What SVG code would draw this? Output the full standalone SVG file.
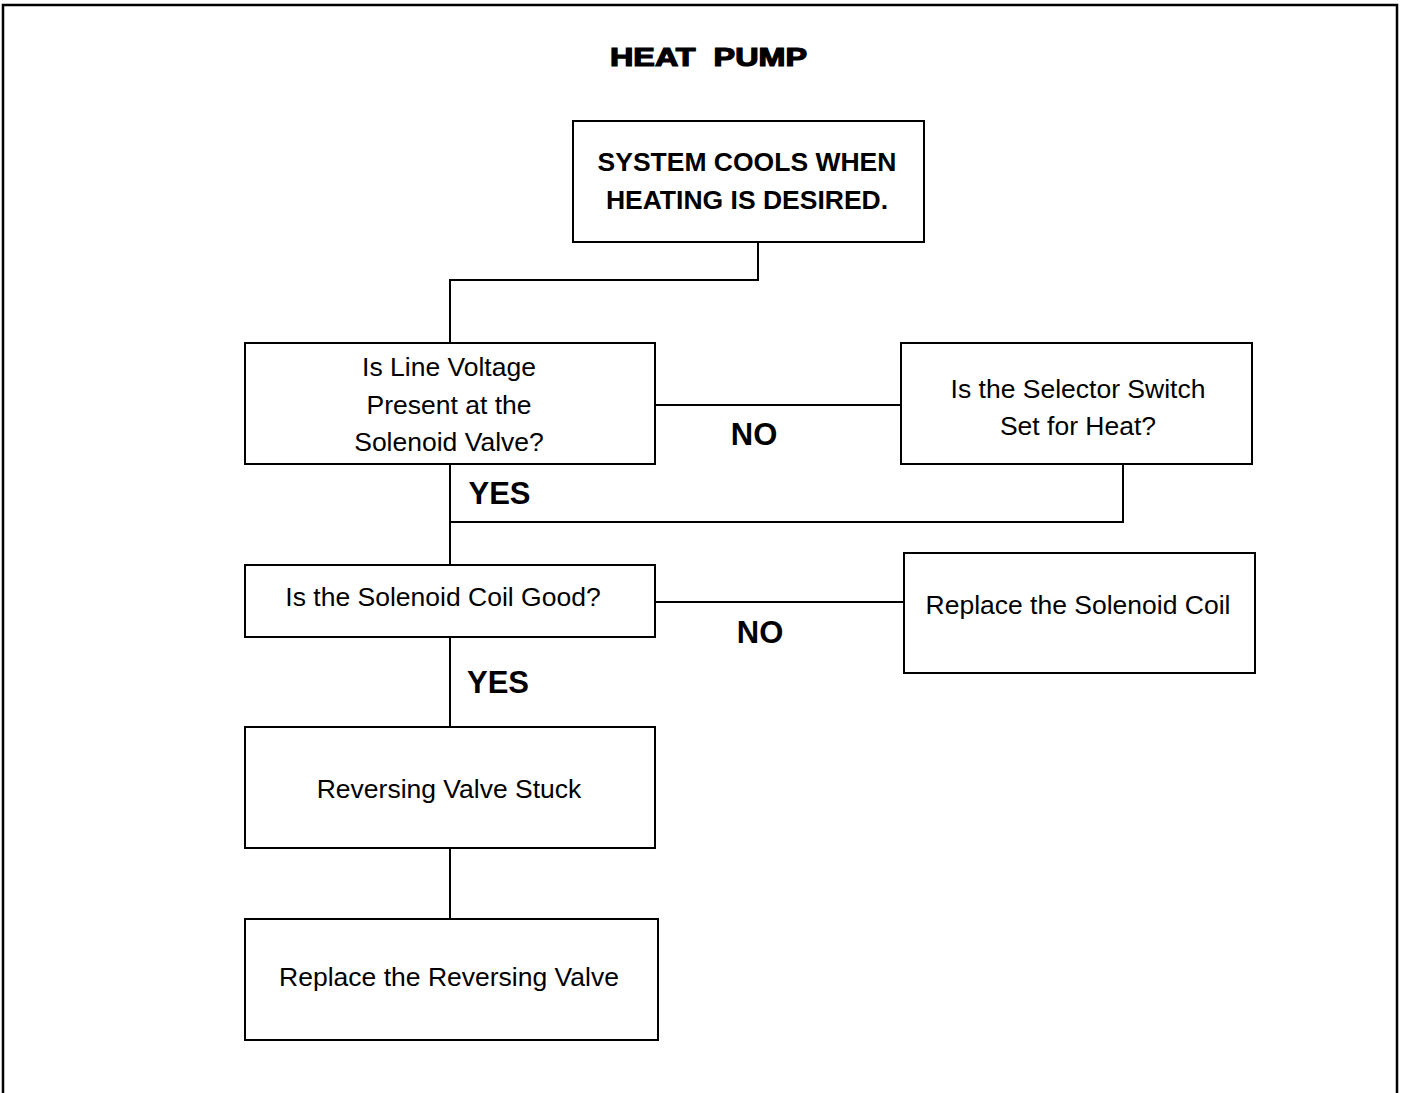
<svg xmlns="http://www.w3.org/2000/svg" width="1402" height="1093" viewBox="0 0 1402 1093">
<style>
.box{fill:#fff;stroke:#000;stroke-width:2}
.ln{fill:none;stroke:#000;stroke-width:2}
.t{font-family:"Liberation Sans",Arial,sans-serif;font-size:26.5px;text-anchor:middle;fill:#000}
.b{font-family:"Liberation Sans",Arial,sans-serif;font-size:26.5px;font-weight:bold;text-anchor:middle;fill:#000}
.lbl{font-family:"Liberation Sans",Arial,sans-serif;font-size:31px;font-weight:bold;text-anchor:middle;fill:#000}
.title{font-family:"Liberation Sans",Arial,sans-serif;font-size:25px;font-weight:bold;fill:#000;stroke:#000;stroke-width:1.2}
</style>
<rect width="1402" height="1093" fill="#fff"/>
<path d="M3 1100 V5 H1397 V1100" fill="none" stroke="#000" stroke-width="2.5"/>
<text class="title" x="610" y="66" textLength="197" lengthAdjust="spacingAndGlyphs" xml:space="preserve">HEAT  PUMP</text>
<g id="connectors">
<path class="ln" d="M758 242 V280 H450 V343"/>
<path class="ln" d="M655 405 H901"/>
<path class="ln" d="M1123 464 V522 H450"/>
<path class="ln" d="M450 464 V565"/>
<path class="ln" d="M655 602 H904"/>
<path class="ln" d="M450 637 V727"/>
<path class="ln" d="M450 848 V919"/>
<text class="lbl" x="754" y="445">NO</text>
<text class="lbl" x="499.5" y="504">YES</text>
<text class="lbl" x="760" y="643">NO</text>
<text class="lbl" x="498" y="693">YES</text>
</g>
<g id="n1"><rect class="box" x="573" y="121" width="351" height="121"/>
<text class="b" x="747" y="171">SYSTEM COOLS WHEN</text>
<text class="b" x="747" y="209">HEATING IS DESIRED.</text></g>
<g id="n2"><rect class="box" x="245" y="343" width="410" height="121"/>
<text class="t" x="449" y="376">Is Line Voltage</text>
<text class="t" x="449" y="414">Present at the</text>
<text class="t" x="449" y="451">Solenoid Valve?</text></g>
<g id="n3"><rect class="box" x="901" y="343" width="351" height="121"/>
<text class="t" x="1078" y="398">Is the Selector Switch</text>
<text class="t" x="1078" y="435">Set for Heat?</text></g>
<g id="n4"><rect class="box" x="245" y="565" width="410" height="72"/>
<text class="t" x="443" y="606">Is the Solenoid Coil Good?</text></g>
<g id="n5"><rect class="box" x="904" y="553" width="351" height="120"/>
<text class="t" x="1078" y="614">Replace the Solenoid Coil</text></g>
<g id="n6"><rect class="box" x="245" y="727" width="410" height="121"/>
<text class="t" x="449" y="798">Reversing Valve Stuck</text></g>
<g id="n7"><rect class="box" x="245" y="919" width="413" height="121"/>
<text class="t" x="449" y="986">Replace the Reversing Valve</text></g>
</svg>
